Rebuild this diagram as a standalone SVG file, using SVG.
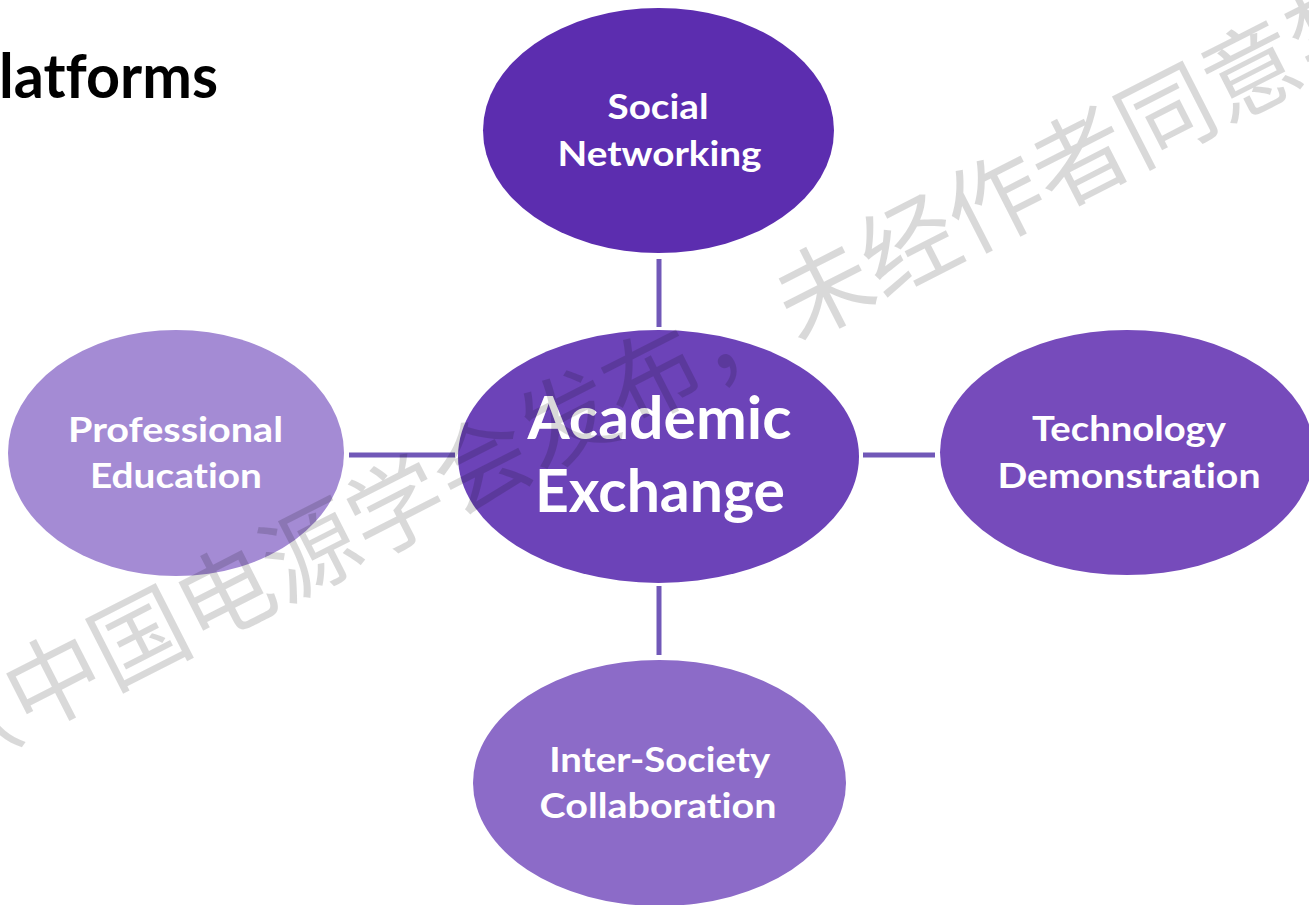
<svg xmlns="http://www.w3.org/2000/svg" width="1309" height="905" viewBox="0 0 1309 905">
<style>
text{font-variant-ligatures:none;font-feature-settings:"liga" 0,"clig" 0}
.lbl{font-family:Lato,"Liberation Sans",sans-serif;font-weight:700;fill:#ffffff;text-anchor:middle;font-size:35px}
.big{font-size:59px}
.conn{stroke:#7158b8;stroke-width:5;fill:none}
.wm{font-family:"Noto Sans CJK SC","Noto Sans",sans-serif;font-size:96px;fill:#000000;fill-opacity:0.15}
</style>
<rect width="1309" height="905" fill="#ffffff"/>
<text x="-1" y="98" textLength="219" lengthAdjust="spacingAndGlyphs" style="font-family:Lato,'Liberation Sans',sans-serif;font-weight:700;font-size:61px;fill:#000">latforms</text>
<g id="connectors">
<line class="conn" x1="659" y1="259" x2="659" y2="327"/>
<line class="conn" x1="659" y1="586" x2="659" y2="655"/>
<line class="conn" x1="349" y1="455" x2="455" y2="455"/>
<line class="conn" x1="863" y1="455" x2="935" y2="455"/>
</g>
<g id="social">
<ellipse cx="658.5" cy="130.5" rx="175.5" ry="122.5" fill="#5c2daf"/>
<text class="lbl" x="658" y="119" textLength="101" lengthAdjust="spacingAndGlyphs">Social</text>
<text class="lbl" x="659.5" y="166" textLength="204" lengthAdjust="spacingAndGlyphs">Networking</text>
</g>
<g id="academic">
<ellipse cx="658.5" cy="456.5" rx="200.5" ry="126.5" fill="#6c43b8"/>
<text class="lbl big" x="659.5" y="439" textLength="264" lengthAdjust="spacingAndGlyphs">Academic</text>
<text class="lbl big" x="660" y="512" textLength="250" lengthAdjust="spacingAndGlyphs">Exchange</text>
</g>
<g id="professional">
<ellipse cx="176" cy="453" rx="168" ry="123" fill="#a48bd4"/>
<text class="lbl" x="175.5" y="442" textLength="215" lengthAdjust="spacingAndGlyphs">Professional</text>
<text class="lbl" x="176" y="488" textLength="172" lengthAdjust="spacingAndGlyphs">Education</text>
</g>
<g id="technology">
<ellipse cx="1127" cy="452.5" rx="187" ry="122.5" fill="#764bbb"/>
<text class="lbl" x="1129" y="441" textLength="194" lengthAdjust="spacingAndGlyphs">Technology</text>
<text class="lbl" x="1129" y="488" textLength="263" lengthAdjust="spacingAndGlyphs">Demonstration</text>
</g>
<g id="intersociety">
<ellipse cx="659.5" cy="783" rx="186.5" ry="123" fill="#8c6bc8"/>
<text class="lbl" x="659.7" y="772" textLength="221" lengthAdjust="spacingAndGlyphs">Inter-Society</text>
<text class="lbl" x="658" y="818" textLength="237" lengthAdjust="spacingAndGlyphs">Collaboration</text>
</g>
<g id="watermark">
<text class="wm" x="0" y="0" transform="translate(-58.7,777.9) rotate(-27)">（中国电源学会发布，未经作者同意禁止转载）</text>
</g>
</svg>
